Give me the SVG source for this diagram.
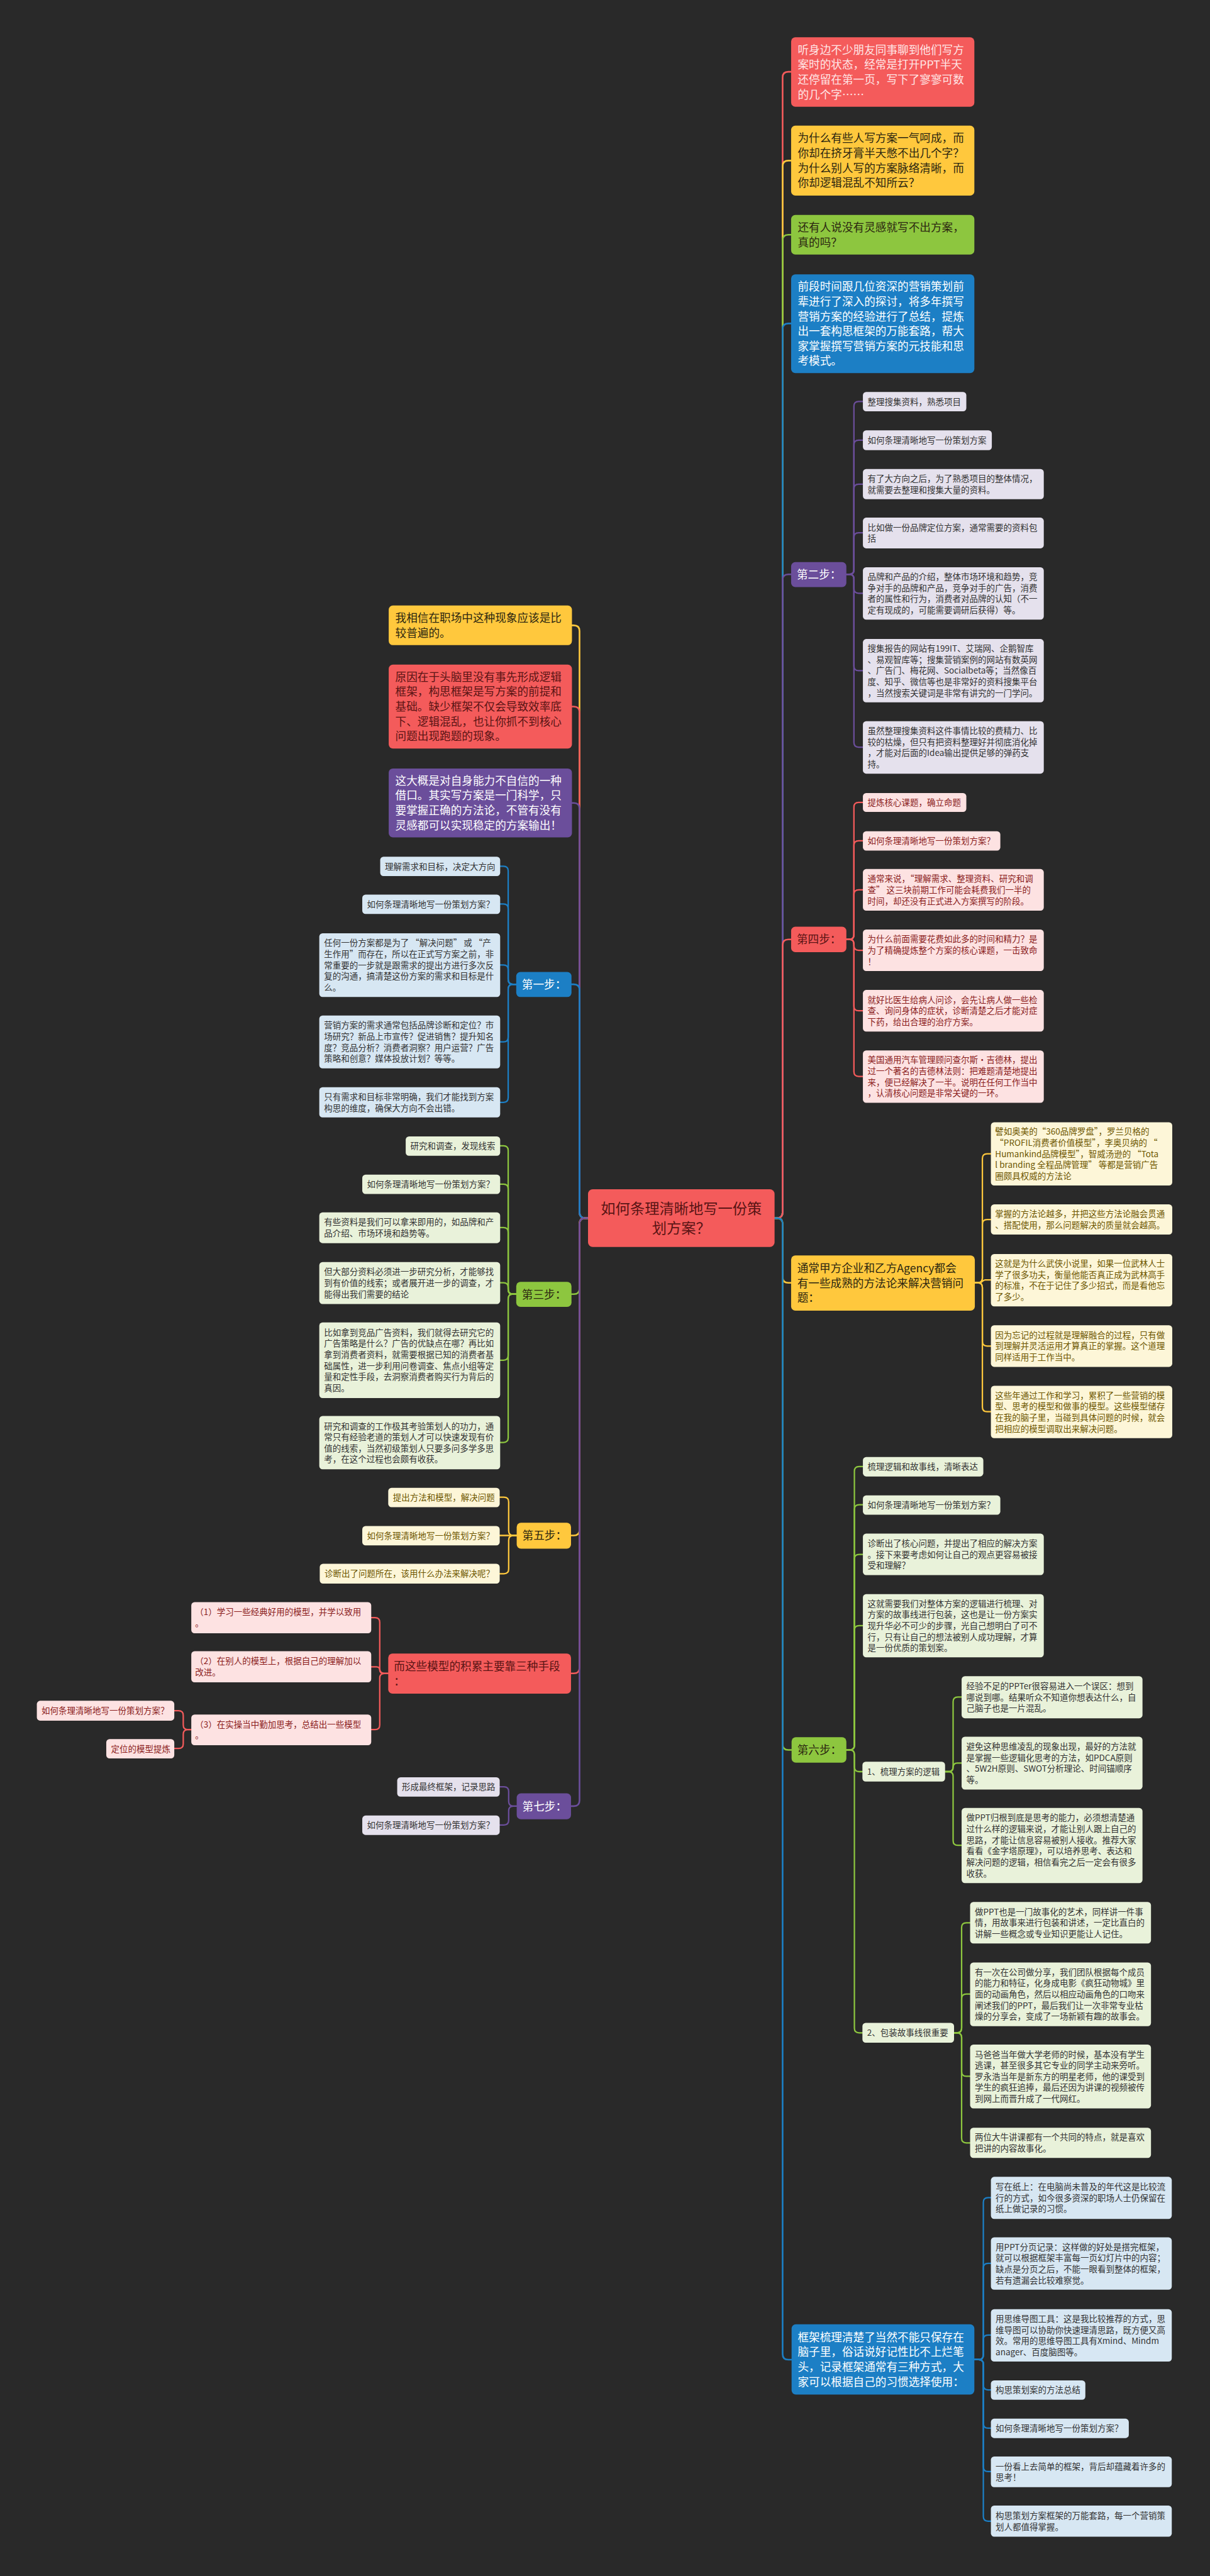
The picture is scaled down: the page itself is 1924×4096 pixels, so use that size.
<svg xmlns="http://www.w3.org/2000/svg" width="1924" height="4096" viewBox="0 0 1924 4096">
<style>
text{font-family:"Noto Sans CJK SC","Noto Sans",sans-serif}
.m{font-size:23.5px}
.s{font-size:18px}
.cc{font-size:31px}
.ln{fill:none;stroke-width:3.5;stroke-linecap:round}
.sl{fill:none;stroke-width:3;stroke-linecap:round}
.kr{stroke:#f45b5b}.ky{stroke:#ffc83d}.kg{stroke:#8dc63f}.kb{stroke:#1c7fc5}.kp{stroke:#6b4e9b}
.fr{fill:#f45b5b}.fy{fill:#ffc83d}.fg{fill:#8dc63f}.fb{fill:#1c7fc5}.fp{fill:#6b4e9b}
.cl{fill:#e5e1ed}.cp{fill:#fde2e2}.cy{fill:#fdf6d8}.cg{fill:#e9f2da}.cb{fill:#d7e7f3}
.xw{fill:#ffffff}.xl{fill:#ffe6e6}.xd{fill:#2b2610}.xr{fill:#5a1414}.xg{fill:#333333}.xp{fill:#8b1d1d}.xo{fill:#6d5600}
</style>
<rect width="1924" height="4096" fill="#292929"/>
<g transform="scale(0.751)">
<g id="connectors">
<path class="ln kr" d="M1640 2579H1645Q1657 2579 1657 2567V164Q1657 152 1669 152H1675"/>
<path class="ln ky" d="M1640 2579H1645Q1657 2579 1657 2567V352Q1657 340 1669 340H1675"/>
<path class="ln kg" d="M1640 2579H1645Q1657 2579 1657 2567V509Q1657 497 1669 497H1675"/>
<path class="ln kb" d="M1640 2579H1645Q1657 2579 1657 2567V697Q1657 685 1669 685H1675"/>
<path class="ln kp" d="M1640 2579H1645Q1657 2579 1657 2567V1228Q1657 1216 1669 1216H1675"/>
<path class="ln kr" d="M1640 2579H1645Q1657 2579 1657 2567V2001Q1657 1989 1669 1989H1675"/>
<path class="ln ky" d="M1640 2579H1645Q1657 2579 1657 2591V2704Q1657 2716 1669 2716H1675"/>
<path class="ln kg" d="M1640 2579H1645Q1657 2579 1657 2591V3693Q1657 3705 1669 3705H1676"/>
<path class="ln kb" d="M1640 2579H1645Q1657 2579 1657 2591V4984Q1657 4996 1669 4996H1676"/>
<path class="ln ky" d="M1245 2579H1239Q1227 2579 1227 2567V1336Q1227 1324 1215 1324H1211"/>
<path class="ln kr" d="M1245 2579H1239Q1227 2579 1227 2567V1508Q1227 1496 1215 1496H1211"/>
<path class="ln kp" d="M1245 2579H1239Q1227 2579 1227 2567V1712Q1227 1700 1215 1700H1211"/>
<path class="ln kb" d="M1245 2579H1239Q1227 2579 1227 2567V2096Q1227 2084 1215 2084H1210"/>
<path class="ln kg" d="M1245 2579H1239Q1227 2579 1227 2591V2728Q1227 2740 1215 2740H1210"/>
<path class="ln ky" d="M1245 2579H1239Q1227 2579 1227 2591V3239Q1227 3251 1215 3251H1209"/>
<path class="ln kr" d="M1245 2579H1239Q1227 2579 1227 2591V3531Q1227 3543 1215 3543H1209"/>
<path class="ln kp" d="M1245 2579H1239Q1227 2579 1227 2591V3812Q1227 3824 1215 3824H1209"/>
<path class="sl kp" d="M1792 1216H1798Q1808 1216 1808 1206V860Q1808 850 1818 850H1827"/>
<path class="sl kp" d="M1792 1216H1798Q1808 1216 1808 1206V942Q1808 932 1818 932H1827"/>
<path class="sl kp" d="M1792 1216H1798Q1808 1216 1808 1206V1035Q1808 1025 1818 1025H1827"/>
<path class="sl kp" d="M1792 1216H1798Q1808 1216 1808 1206V1138Q1808 1128 1818 1128H1827"/>
<path class="sl kp" d="M1792 1216H1798Q1808 1216 1808 1226V1246Q1808 1256 1818 1256H1827"/>
<path class="sl kp" d="M1792 1216H1798Q1808 1216 1808 1226V1410Q1808 1420 1818 1420H1827"/>
<path class="sl kp" d="M1792 1216H1798Q1808 1216 1808 1226V1572Q1808 1582 1818 1582H1827"/>
<path class="sl kr" d="M1792 1989H1798Q1808 1989 1808 1979V1709Q1808 1699 1818 1699H1827"/>
<path class="sl kr" d="M1792 1989H1798Q1808 1989 1808 1979V1790Q1808 1780 1818 1780H1827"/>
<path class="sl kr" d="M1792 1989H1798Q1808 1989 1808 1979V1894Q1808 1884 1818 1884H1827"/>
<path class="sl kr" d="M1792 1989H1798Q1808 1989 1808 1999V2002Q1808 2012 1818 2012H1827"/>
<path class="sl kr" d="M1792 1989H1798Q1808 1989 1808 1999V2130Q1808 2140 1818 2140H1827"/>
<path class="sl kr" d="M1792 1989H1798Q1808 1989 1808 1999V2269Q1808 2279 1818 2279H1827"/>
<path class="sl ky" d="M2064 2716H2070Q2080 2716 2080 2706V2453Q2080 2443 2090 2443H2098"/>
<path class="sl ky" d="M2064 2716H2070Q2080 2716 2080 2706V2592Q2080 2582 2090 2582H2098"/>
<path class="sl ky" d="M2064 2716H2074C2080 2716 2080 2710 2086 2710H2098"/>
<path class="sl ky" d="M2064 2716H2070Q2080 2716 2080 2726V2840Q2080 2850 2090 2850H2098"/>
<path class="sl ky" d="M2064 2716H2070Q2080 2716 2080 2726V2979Q2080 2989 2090 2989H2098"/>
<path class="sl kg" d="M1792 3705H1799Q1809 3705 1809 3695V3115Q1809 3105 1819 3105H1827"/>
<path class="sl kg" d="M1792 3705H1799Q1809 3705 1809 3695V3196Q1809 3186 1819 3186H1827"/>
<path class="sl kg" d="M1792 3705H1799Q1809 3705 1809 3695V3301Q1809 3291 1819 3291H1827"/>
<path class="sl kg" d="M1792 3705H1799Q1809 3705 1809 3695V3452Q1809 3442 1819 3442H1827"/>
<path class="sl kg" d="M1792 3705H1799Q1809 3705 1809 3715V3741Q1809 3751 1819 3751H1826"/>
<path class="sl kg" d="M1792 3705H1799Q1809 3705 1809 3715V4294Q1809 4304 1819 4304H1826"/>
<path class="sl kg" d="M2001 3751H2008Q2018 3751 2018 3741V3603Q2018 3593 2028 3593H2036"/>
<path class="sl kg" d="M2001 3751H2009Q2018 3751 2018 3742Q2018 3733 2027 3733H2036"/>
<path class="sl kg" d="M2001 3751H2008Q2018 3751 2018 3761V3897Q2018 3907 2028 3907H2036"/>
<path class="sl kg" d="M2020 4304H2026Q2036 4304 2036 4294V4081Q2036 4071 2046 4071H2054"/>
<path class="sl kg" d="M2020 4304H2026Q2036 4304 2036 4294V4232Q2036 4222 2046 4222H2054"/>
<path class="sl kg" d="M2020 4304H2026Q2036 4304 2036 4314V4386Q2036 4396 2046 4396H2054"/>
<path class="sl kg" d="M2020 4304H2026Q2036 4304 2036 4314V4527Q2036 4537 2046 4537H2054"/>
<path class="sl kb" d="M2063 4996H2072Q2082 4996 2082 4986V4663Q2082 4653 2092 4653H2098"/>
<path class="sl kb" d="M2063 4996H2072Q2082 4996 2082 4986V4802Q2082 4792 2092 4792H2098"/>
<path class="sl kb" d="M2063 4996H2072Q2082 4996 2082 4986V4954Q2082 4944 2092 4944H2098"/>
<path class="sl kb" d="M2063 4996H2072Q2082 4996 2082 5006V5050Q2082 5060 2092 5060H2098"/>
<path class="sl kb" d="M2063 4996H2072Q2082 4996 2082 5006V5131Q2082 5141 2092 5141H2098"/>
<path class="sl kb" d="M2063 4996H2072Q2082 4996 2082 5006V5223Q2082 5233 2092 5233H2098"/>
<path class="sl kb" d="M2063 4996H2072Q2082 4996 2082 5006V5328Q2082 5338 2092 5338H2098"/>
<path class="sl kb" d="M1093 2084H1086Q1076 2084 1076 2074V1844Q1076 1834 1066 1834H1059"/>
<path class="sl kb" d="M1093 2084H1086Q1076 2084 1076 2074V1924Q1076 1914 1066 1914H1059"/>
<path class="sl kb" d="M1093 2084H1086Q1076 2084 1076 2074V2053Q1076 2043 1066 2043H1059"/>
<path class="sl kb" d="M1093 2084H1086Q1076 2084 1076 2094V2196Q1076 2206 1066 2206H1059"/>
<path class="sl kb" d="M1093 2084H1086Q1076 2084 1076 2094V2324Q1076 2334 1066 2334H1059"/>
<path class="sl kg" d="M1093 2740H1086Q1076 2740 1076 2730V2436Q1076 2426 1066 2426H1059"/>
<path class="sl kg" d="M1093 2740H1086Q1076 2740 1076 2730V2517Q1076 2507 1066 2507H1059"/>
<path class="sl kg" d="M1093 2740H1086Q1076 2740 1076 2730V2609Q1076 2599 1066 2599H1059"/>
<path class="sl kg" d="M1093 2740H1086Q1076 2740 1076 2730V2726Q1076 2716 1066 2716H1059"/>
<path class="sl kg" d="M1093 2740H1086Q1076 2740 1076 2750V2870Q1076 2880 1066 2880H1059"/>
<path class="sl kg" d="M1093 2740H1086Q1076 2740 1076 2750V3044Q1076 3054 1066 3054H1059"/>
<path class="sl ky" d="M1094 3251H1087Q1077 3251 1077 3241V3180Q1077 3170 1067 3170H1058"/>
<path class="sl ky" d="M1094 3251H1058"/>
<path class="sl ky" d="M1094 3251H1087Q1077 3251 1077 3261V3322Q1077 3332 1067 3332H1058"/>
<path class="sl kr" d="M822 3543H814Q804 3543 804 3533V3435Q804 3425 794 3425H786"/>
<path class="sl kr" d="M822 3543H813Q804 3543 804 3536Q804 3529 797 3529H786"/>
<path class="sl kr" d="M822 3543H814Q804 3543 804 3553V3652Q804 3662 794 3662H786"/>
<path class="sl kr" d="M405 3662H398Q388 3662 388 3652V3632Q388 3622 378 3622H369"/>
<path class="sl kr" d="M405 3662H398Q388 3662 388 3672V3692Q388 3702 378 3702H369"/>
<path class="sl kp" d="M1094 3824H1087Q1077 3824 1077 3814V3793Q1077 3783 1067 3783H1058"/>
<path class="sl kp" d="M1094 3824H1087Q1077 3824 1077 3834V3854Q1077 3864 1067 3864H1058"/>
</g>

<g id="center" transform="translate(1245,2518)"><rect class="fr" width="395" height="122" rx="10"/><text class="cc xr" text-anchor="middle" y="51.5"><tspan x="197.5">如何条理清晰地写一份策</tspan><tspan x="197.5" dy="42">划方案？</tspan></text></g>

<g id="r1" transform="translate(1675,79)"><rect class="fr" width="388" height="147" rx="9"/><text class="m xl" y="34.95"><tspan x="14">听身边不少朋友同事聊到他们写方</tspan><tspan x="14" dy="31.5">案时的状态，经常是打开PPT半天</tspan><tspan x="14" dy="31.5">还停留在第一页，写下了寥寥可数</tspan><tspan x="14" dy="31.5">的几个字……</tspan></text></g>
<g id="r2" transform="translate(1675,266)"><rect class="fy" width="388" height="148" rx="9"/><text class="m xd" y="35.45"><tspan x="14">为什么有些人写方案一气呵成，而</tspan><tspan x="14" dy="31.5">你却在挤牙膏半天憋不出几个字？</tspan><tspan x="14" dy="31.5">为什么别人写的方案脉络清晰，而</tspan><tspan x="14" dy="31.5">你却逻辑混乱不知所云？</tspan></text></g>
<g id="r3" transform="translate(1675,455)"><rect class="fg" width="388" height="84" rx="9"/><text class="m xd" y="34.95"><tspan x="14">还有人说没有灵感就写不出方案，</tspan><tspan x="14" dy="31.5">真的吗？</tspan></text></g>
<g id="r4" transform="translate(1675,581)"><rect class="fb" width="388" height="209" rx="9"/><text class="m xw" y="34.45"><tspan x="14">前段时间跟几位资深的营销策划前</tspan><tspan x="14" dy="31.5">辈进行了深入的探讨，将多年撰写</tspan><tspan x="14" dy="31.5">营销方案的经验进行了总结，提炼</tspan><tspan x="14" dy="31.5">出一套构思框架的万能套路，帮大</tspan><tspan x="14" dy="31.5">家掌握撰写营销方案的元技能和思</tspan><tspan x="14" dy="31.5">考模式。</tspan></text></g>

<g id="step2" transform="translate(1675,1190)"><rect class="fp" width="117" height="53" rx="9"/><text class="m xw" x="12" y="35.2">第二步：</text></g>
<g id="s2c1" transform="translate(1827,830)"><rect class="cl" width="219" height="41" rx="7"/><text class="s xg" x="10" y="27.2">整理搜集资料，熟悉项目</text></g>
<g id="s2c2" transform="translate(1827,911)"><rect class="cl" width="273" height="42" rx="7"/><text class="s xg" x="10" y="27.7">如何条理清晰地写一份策划方案</text></g>
<g id="s2c3" transform="translate(1827,993)"><rect class="cl" width="383" height="64" rx="7"/><text class="s xg" y="26.95"><tspan x="10">有了大方向之后，为了熟悉项目的整体情况，</tspan><tspan x="10" dy="23.5">就需要去整理和搜集大量的资料。</tspan></text></g>
<g id="s2c4" transform="translate(1827,1096)"><rect class="cl" width="383" height="65" rx="7"/><text class="s xg" y="27.45"><tspan x="10">比如做一份品牌定位方案，通常需要的资料包</tspan><tspan x="10" dy="23.5">括</tspan></text></g>
<g id="s2c5" transform="translate(1827,1201)"><rect class="cl" width="383" height="111" rx="7"/><text class="s xg" y="26.95"><tspan x="10">品牌和产品的介绍，整体市场环境和趋势，竞</tspan><tspan x="10" dy="23.5">争对手的品牌和产品，竞争对手的广告，消费</tspan><tspan x="10" dy="23.5">者的属性和行为，消费者对品牌的认知（不一</tspan><tspan x="10" dy="23.5">定有现成的，可能需要调研后获得）等。</tspan></text></g>
<g id="s2c6" transform="translate(1827,1353)"><rect class="cl" width="383" height="134" rx="7"/><text class="s xg" y="26.7"><tspan x="10">搜集报告的网站有199IT、艾瑞网、企鹅智库</tspan><tspan x="10" dy="23.5">、易观智库等；搜集营销案例的网站有数英网</tspan><tspan x="10" dy="23.5">、广告门、梅花网、Socialbeta等；当然像百</tspan><tspan x="10" dy="23.5">度、知乎、微信等也是非常好的资料搜集平台</tspan><tspan x="10" dy="23.5">，当然搜索关键词是非常有讲究的一门学问。</tspan></text></g>
<g id="s2c7" transform="translate(1827,1527)"><rect class="cl" width="383" height="111" rx="7"/><text class="s xg" y="26.95"><tspan x="10">虽然整理搜集资料这件事情比较的费精力、比</tspan><tspan x="10" dy="23.5">较的枯燥，但只有把资料整理好并彻底消化掉</tspan><tspan x="10" dy="23.5">，才能对后面的Idea输出提供足够的弹药支</tspan><tspan x="10" dy="23.5">持。</tspan></text></g>

<g id="step4" transform="translate(1675,1962)"><rect class="fr" width="117" height="54" rx="9"/><text class="m xr" x="12" y="35.7">第四步：</text></g>
<g id="s4c1" transform="translate(1827,1679)"><rect class="cp" width="219" height="40" rx="7"/><text class="s xp" x="10" y="26.7">提炼核心课题，确立命题</text></g>
<g id="s4c2" transform="translate(1827,1760)"><rect class="cp" width="291" height="41" rx="7"/><text class="s xp" x="10" y="27.2">如何条理清晰地写一份策划方案？</text></g>
<g id="s4c3" transform="translate(1827,1840)"><rect class="cp" width="383" height="88" rx="7"/><text class="s xp" y="27.2"><tspan x="10">通常来说，“理解需求、整理资料、研究和调</tspan><tspan x="10" dy="23.5">查” 这三块前期工作可能会耗费我们一半的</tspan><tspan x="10" dy="23.5">时间，却还没有正式进入方案撰写的阶段。</tspan></text></g>
<g id="s4c4" transform="translate(1827,1968)"><rect class="cp" width="383" height="88" rx="7"/><text class="s xp" y="27.2"><tspan x="10">为什么前面需要花费如此多的时间和精力？是</tspan><tspan x="10" dy="23.5">为了精确提炼整个方案的核心课题，一击致命</tspan><tspan x="10" dy="23.5">！</tspan></text></g>
<g id="s4c5" transform="translate(1827,2096)"><rect class="cp" width="383" height="88" rx="7"/><text class="s xp" y="27.2"><tspan x="10">就好比医生给病人问诊，会先让病人做一些检</tspan><tspan x="10" dy="23.5">查、询问身体的症状，诊断清楚之后才能对症</tspan><tspan x="10" dy="23.5">下药，给出合理的治疗方案。</tspan></text></g>
<g id="s4c6" transform="translate(1827,2224)"><rect class="cp" width="383" height="111" rx="7"/><text class="s xp" y="26.95"><tspan x="10">美国通用汽车管理顾问查尔斯·吉德林，提出</tspan><tspan x="10" dy="23.5">过一个著名的吉德林法则：把难题清楚地提出</tspan><tspan x="10" dy="23.5">来，便已经解决了一半。说明在任何工作当中</tspan><tspan x="10" dy="23.5">，认清核心问题是非常关键的一环。</tspan></text></g>

<g id="agency" transform="translate(1675,2658)"><rect class="fy" width="389" height="117" rx="9"/><text class="m xd" y="35.7"><tspan x="13">通常甲方企业和乙方Agency都会</tspan><tspan x="13" dy="31.5">有一些成熟的方法论来解决营销问</tspan><tspan x="13" dy="31.5">题：</tspan></text></g>
<g id="agc1" transform="translate(2098,2376)"><rect class="cy" width="384" height="134" rx="7"/><text class="s xo" y="26.7"><tspan x="9">譬如奥美的“360品牌罗盘”，罗兰贝格的</tspan><tspan x="9" dy="23.5">“PROFIL消费者价值模型”，李奥贝纳的 “</tspan><tspan x="9" dy="23.5">Humankind品牌模型”，智威汤逊的 “Tota</tspan><tspan x="9" dy="23.5">l branding 全程品牌管理” 等都是营销广告</tspan><tspan x="9" dy="23.5">圈颇具权威的方法论</tspan></text></g>
<g id="agc2" transform="translate(2098,2550)"><rect class="cy" width="384" height="64" rx="7"/><text class="s xo" y="26.95"><tspan x="9">掌握的方法论越多，并把这些方法论融会贯通</tspan><tspan x="9" dy="23.5">、搭配使用，那么问题解决的质量就会越高。</tspan></text></g>
<g id="agc3" transform="translate(2098,2655)"><rect class="cy" width="384" height="111" rx="7"/><text class="s xo" y="26.95"><tspan x="9">这就是为什么武侠小说里，如果一位武林人士</tspan><tspan x="9" dy="23.5">学了很多功夫，衡量他能否真正成为武林高手</tspan><tspan x="9" dy="23.5">的标准，不在于记住了多少招式，而是看他忘</tspan><tspan x="9" dy="23.5">了多少。</tspan></text></g>
<g id="agc4" transform="translate(2098,2806)"><rect class="cy" width="384" height="88" rx="7"/><text class="s xo" y="27.2"><tspan x="9">因为忘记的过程就是理解融合的过程，只有做</tspan><tspan x="9" dy="23.5">到理解并灵活运用才算真正的掌握。这个道理</tspan><tspan x="9" dy="23.5">同样适用于工作当中。</tspan></text></g>
<g id="agc5" transform="translate(2098,2934)"><rect class="cy" width="384" height="111" rx="7"/><text class="s xo" y="26.95"><tspan x="9">这些年通过工作和学习，累积了一些营销的模</tspan><tspan x="9" dy="23.5">型、思考的模型和做事的模型。这些模型储存</tspan><tspan x="9" dy="23.5">在我的脑子里，当碰到具体问题的时候，就会</tspan><tspan x="9" dy="23.5">把相应的模型调取出来解决问题。</tspan></text></g>

<g id="step6" transform="translate(1676,3678)"><rect class="fg" width="116" height="54" rx="9"/><text class="m xd" x="12" y="35.7">第六步：</text></g>
<g id="s6c1" transform="translate(1827,3085)"><rect class="cg" width="255" height="41" rx="7"/><text class="s xg" x="10" y="27.2">梳理逻辑和故事线，清晰表达</text></g>
<g id="s6c2" transform="translate(1827,3166)"><rect class="cg" width="291" height="41" rx="7"/><text class="s xg" x="10" y="27.2">如何条理清晰地写一份策划方案？</text></g>
<g id="s6c3" transform="translate(1827,3247)"><rect class="cg" width="383" height="88" rx="7"/><text class="s xg" y="27.2"><tspan x="10">诊断出了核心问题，并提出了相应的解决方案</tspan><tspan x="10" dy="23.5">。接下来要考虑如何让自己的观点更容易被接</tspan><tspan x="10" dy="23.5">受和理解？</tspan></text></g>
<g id="s6c4" transform="translate(1827,3375)"><rect class="cg" width="383" height="134" rx="7"/><text class="s xg" y="26.7"><tspan x="10">这就需要我们对整体方案的逻辑进行梳理、对</tspan><tspan x="10" dy="23.5">方案的故事线进行包装，这也是让一份方案实</tspan><tspan x="10" dy="23.5">现升华必不可少的步骤，光自己想明白了可不</tspan><tspan x="10" dy="23.5">行，只有让自己的想法被别人成功理解，才算</tspan><tspan x="10" dy="23.5">是一份优质的策划案。</tspan></text></g>
<g id="s6a" transform="translate(1826,3730)"><rect class="cg" width="175" height="42" rx="7"/><text class="s xg" x="10" y="27.7">1、梳理方案的逻辑</text></g>
<g id="s6a1" transform="translate(2036,3549)"><rect class="cg" width="383" height="89" rx="7"/><text class="s xg" y="27.7"><tspan x="10">经验不足的PPTer很容易进入一个误区：想到</tspan><tspan x="10" dy="23.5">哪说到哪。结果听众不知道你想表达什么，自</tspan><tspan x="10" dy="23.5">己脑子也是一片混乱。</tspan></text></g>
<g id="s6a2" transform="translate(2036,3677)"><rect class="cg" width="383" height="112" rx="7"/><text class="s xg" y="27.45"><tspan x="10">避免这种思维凌乱的现象出现，最好的方法就</tspan><tspan x="10" dy="23.5">是掌握一些逻辑化思考的方法，如PDCA原则</tspan><tspan x="10" dy="23.5">、5W2H原则、SWOT分析理论、时间锚顺序</tspan><tspan x="10" dy="23.5">等。</tspan></text></g>
<g id="s6a3" transform="translate(2036,3828)"><rect class="cg" width="383" height="159" rx="7"/><text class="s xg" y="27.45"><tspan x="10">做PPT归根到底是思考的能力，必须想清楚通</tspan><tspan x="10" dy="23.5">过什么样的逻辑来说，才能让别人跟上自己的</tspan><tspan x="10" dy="23.5">思路，才能让信息容易被别人接收。推荐大家</tspan><tspan x="10" dy="23.5">看看《金字塔原理》，可以培养思考、表达和</tspan><tspan x="10" dy="23.5">解决问题的逻辑，相信看完之后一定会有很多</tspan><tspan x="10" dy="23.5">收获。</tspan></text></g>
<g id="s6b" transform="translate(1826,4283)"><rect class="cg" width="194" height="42" rx="7"/><text class="s xg" x="10" y="27.7">2、包装故事线很重要</text></g>
<g id="s6b1" transform="translate(2054,4027)"><rect class="cg" width="383" height="88" rx="7"/><text class="s xg" y="27.2"><tspan x="10">做PPT也是一门故事化的艺术，同样讲一件事</tspan><tspan x="10" dy="23.5">情，用故事来进行包装和讲述，一定比直白的</tspan><tspan x="10" dy="23.5">讲解一些概念或专业知识更能让人记住。</tspan></text></g>
<g id="s6b2" transform="translate(2054,4155)"><rect class="cg" width="383" height="135" rx="7"/><text class="s xg" y="27.2"><tspan x="10">有一次在公司做分享，我们团队根据每个成员</tspan><tspan x="10" dy="23.5">的能力和特征，化身成电影《疯狂动物城》里</tspan><tspan x="10" dy="23.5">面的动画角色，然后以相应动画角色的口吻来</tspan><tspan x="10" dy="23.5">阐述我们的PPT，最后我们让一次非常专业枯</tspan><tspan x="10" dy="23.5">燥的分享会，变成了一场新颖有趣的故事会。</tspan></text></g>
<g id="s6b3" transform="translate(2054,4329)"><rect class="cg" width="383" height="135" rx="7"/><text class="s xg" y="27.2"><tspan x="10">马爸爸当年做大学老师的时候，基本没有学生</tspan><tspan x="10" dy="23.5">逃课，甚至很多其它专业的同学主动来旁听。</tspan><tspan x="10" dy="23.5">罗永浩当年是新东方的明星老师，他的课受到</tspan><tspan x="10" dy="23.5">学生的疯狂追捧，最后还因为讲课的视频被传</tspan><tspan x="10" dy="23.5">到网上而晋升成了一代网红。</tspan></text></g>
<g id="s6b4" transform="translate(2054,4505)"><rect class="cg" width="383" height="64" rx="7"/><text class="s xg" y="26.95"><tspan x="10">两位大牛讲课都有一个共同的特点，就是喜欢</tspan><tspan x="10" dy="23.5">把讲的内容故事化。</tspan></text></g>

<g id="frame" transform="translate(1676,4921)"><rect class="fb" width="387" height="149" rx="9"/><text class="m xw" y="35.95"><tspan x="13">框架梳理清楚了当然不能只保存在</tspan><tspan x="13" dy="31.5">脑子里，俗话说好记性比不上烂笔</tspan><tspan x="13" dy="31.5">头，记录框架通常有三种方式，大</tspan><tspan x="13" dy="31.5">家可以根据自己的习惯选择使用：</tspan></text></g>
<g id="fc1" transform="translate(2098,4609)"><rect class="cb" width="383" height="89" rx="7"/><text class="s xg" y="27.7"><tspan x="10">写在纸上：在电脑尚未普及的年代这是比较流</tspan><tspan x="10" dy="23.5">行的方式，如今很多资深的职场人士仍保留在</tspan><tspan x="10" dy="23.5">纸上做记录的习惯。</tspan></text></g>
<g id="fc2" transform="translate(2098,4737)"><rect class="cb" width="383" height="111" rx="7"/><text class="s xg" y="26.95"><tspan x="10">用PPT分页记录：这样做的好处是搭完框架，</tspan><tspan x="10" dy="23.5">就可以根据框架丰富每一页幻灯片中的内容；</tspan><tspan x="10" dy="23.5">缺点是分页之后，不能一眼看到整体的框架，</tspan><tspan x="10" dy="23.5">若有遗漏会比较难察觉。</tspan></text></g>
<g id="fc3" transform="translate(2098,4889)"><rect class="cb" width="383" height="111" rx="7"/><text class="s xg" y="26.95"><tspan x="10">用思维导图工具：这是我比较推荐的方式，思</tspan><tspan x="10" dy="23.5">维导图可以协助你快速理清思路，既方便又高</tspan><tspan x="10" dy="23.5">效。常用的思维导图工具有Xmind、Mindm</tspan><tspan x="10" dy="23.5">anager、百度脑图等。</tspan></text></g>
<g id="fc4" transform="translate(2098,5040)"><rect class="cb" width="200" height="41" rx="7"/><text class="s xg" x="10" y="27.2">构思策划案的方法总结</text></g>
<g id="fc5" transform="translate(2098,5121)"><rect class="cb" width="292" height="41" rx="7"/><text class="s xg" x="10" y="27.2">如何条理清晰地写一份策划方案？</text></g>
<g id="fc6" transform="translate(2098,5201)"><rect class="cb" width="383" height="65" rx="7"/><text class="s xg" y="27.45"><tspan x="10">一份看上去简单的框架，背后却蕴藏着许多的</tspan><tspan x="10" dy="23.5">思考！</tspan></text></g>
<g id="fc7" transform="translate(2098,5305)"><rect class="cb" width="383" height="66" rx="7"/><text class="s xg" y="27.95"><tspan x="10">构思策划方案框架的万能套路，每一个营销策</tspan><tspan x="10" dy="23.5">划人都值得掌握。</tspan></text></g>

<g id="l1" transform="translate(823,1282)"><rect class="fy" width="388" height="84" rx="9"/><text class="m xd" y="34.95"><tspan x="14">我相信在职场中这种现象应该是比</tspan><tspan x="14" dy="31.5">较普遍的。</tspan></text></g>
<g id="l2" transform="translate(823,1407)"><rect class="fr" width="388" height="178" rx="9"/><text class="m xr" y="34.7"><tspan x="14">原因在于头脑里没有事先形成逻辑</tspan><tspan x="14" dy="31.5">框架，构思框架是写方案的前提和</tspan><tspan x="14" dy="31.5">基础。缺少框架不仅会导致效率底</tspan><tspan x="14" dy="31.5">下、逻辑混乱，也让你抓不到核心</tspan><tspan x="14" dy="31.5">问题出现跑题的现象。</tspan></text></g>
<g id="l3" transform="translate(823,1627)"><rect class="fp" width="388" height="146" rx="9"/><text class="m xw" y="34.45"><tspan x="14">这大概是对自身能力不自信的一种</tspan><tspan x="14" dy="31.5">借口。其实写方案是一门科学，只</tspan><tspan x="14" dy="31.5">要掌握正确的方法论，不管有没有</tspan><tspan x="14" dy="31.5">灵感都可以实现稳定的方案输出！</tspan></text></g>

<g id="step1" transform="translate(1093,2058)"><rect class="fb" width="117" height="53" rx="9"/><text class="m xw" x="12" y="35.2">第一步：</text></g>
<g id="s1c1" transform="translate(805,1814)"><rect class="cb" width="254" height="41" rx="7"/><text class="s xg" x="10" y="27.2">理解需求和目标，决定大方向</text></g>
<g id="s1c2" transform="translate(767,1894)"><rect class="cb" width="292" height="41" rx="7"/><text class="s xg" x="10" y="27.2">如何条理清晰地写一份策划方案？</text></g>
<g id="s1c3" transform="translate(676,1976)"><rect class="cb" width="383" height="135" rx="7"/><text class="s xg" y="27.2"><tspan x="10">任何一份方案都是为了 “解决问题” 或 “产</tspan><tspan x="10" dy="23.5">生作用”而存在，所以在正式写方案之前，非</tspan><tspan x="10" dy="23.5">常重要的一步就是跟需求的提出方进行多次反</tspan><tspan x="10" dy="23.5">复的沟通，搞清楚这份方案的需求和目标是什</tspan><tspan x="10" dy="23.5">么。</tspan></text></g>
<g id="s1c4" transform="translate(676,2150)"><rect class="cb" width="383" height="112" rx="7"/><text class="s xg" y="27.45"><tspan x="10">营销方案的需求通常包括品牌诊断和定位？市</tspan><tspan x="10" dy="23.5">场研究？新品上市宣传？促进销售？提升知名</tspan><tspan x="10" dy="23.5">度？竞品分析？消费者洞察？用户运营？广告</tspan><tspan x="10" dy="23.5">策略和创意？媒体投放计划？等等。</tspan></text></g>
<g id="s1c5" transform="translate(676,2302)"><rect class="cb" width="383" height="64" rx="7"/><text class="s xg" y="26.95"><tspan x="10">只有需求和目标非常明确，我们才能找到方案</tspan><tspan x="10" dy="23.5">构思的维度，确保大方向不会出错。</tspan></text></g>

<g id="step3" transform="translate(1093,2714)"><rect class="fg" width="117" height="53" rx="9"/><text class="m xd" x="12" y="35.2">第三步：</text></g>
<g id="s3c1" transform="translate(859,2406)"><rect class="cg" width="200" height="41" rx="7"/><text class="s xg" x="10" y="27.2">研究和调查，发现线索</text></g>
<g id="s3c2" transform="translate(767,2487)"><rect class="cg" width="292" height="41" rx="7"/><text class="s xg" x="10" y="27.2">如何条理清晰地写一份策划方案？</text></g>
<g id="s3c3" transform="translate(676,2567)"><rect class="cg" width="383" height="65" rx="7"/><text class="s xg" y="27.45"><tspan x="10">有些资料是我们可以拿来即用的，如品牌和产</tspan><tspan x="10" dy="23.5">品介绍、市场环境和趋势等。</tspan></text></g>
<g id="s3c4" transform="translate(676,2672)"><rect class="cg" width="383" height="89" rx="7"/><text class="s xg" y="27.7"><tspan x="10">但大部分资料必须进一步研究分析，才能够找</tspan><tspan x="10" dy="23.5">到有价值的线索；或者展开进一步的调查，才</tspan><tspan x="10" dy="23.5">能得出我们需要的结论</tspan></text></g>
<g id="s3c5" transform="translate(676,2800)"><rect class="cg" width="383" height="160" rx="7"/><text class="s xg" y="27.95"><tspan x="10">比如拿到竞品广告资料，我们就得去研究它的</tspan><tspan x="10" dy="23.5">广告策略是什么？广告的优缺点在哪？再比如</tspan><tspan x="10" dy="23.5">拿到消费者资料，就需要根据已知的消费者基</tspan><tspan x="10" dy="23.5">础属性，进一步利用问卷调查、焦点小组等定</tspan><tspan x="10" dy="23.5">量和定性手段，去洞察消费者购买行为背后的</tspan><tspan x="10" dy="23.5">真因。</tspan></text></g>
<g id="s3c6" transform="translate(676,2998)"><rect class="cg" width="383" height="113" rx="7"/><text class="s xg" y="28"><tspan x="10">研究和调查的工作极其考验策划人的功力，通</tspan><tspan x="10" dy="23.5">常只有经验老道的策划人才可以快速发现有价</tspan><tspan x="10" dy="23.5">值的线索，当然初级策划人只要多问多学多思</tspan><tspan x="10" dy="23.5">考，在这个过程也会颇有收获。</tspan></text></g>

<g id="step5" transform="translate(1094,3224)"><rect class="fy" width="115" height="55" rx="9"/><text class="m xd" x="12" y="36.2">第五步：</text></g>
<g id="s5c1" transform="translate(822,3150)"><rect class="cy" width="236" height="41" rx="7"/><text class="s xo" x="10" y="27.2">提出方法和模型，解决问题</text></g>
<g id="s5c2" transform="translate(767,3231)"><rect class="cy" width="291" height="41" rx="7"/><text class="s xo" x="10" y="27.2">如何条理清晰地写一份策划方案？</text></g>
<g id="s5c3" transform="translate(677,3311)"><rect class="cy" width="381" height="42" rx="7"/><text class="s xo" x="10" y="27.7">诊断出了问题所在，该用什么办法来解决呢？</text></g>

<g id="models" transform="translate(822,3501)"><rect class="fr" width="387" height="85" rx="9"/><text class="m xr" y="35.45"><tspan x="12">而这些模型的积累主要靠三种手段</tspan><tspan x="12" dy="31.5">：</tspan></text></g>
<g id="m1" transform="translate(405,3392)"><rect class="cp" width="381" height="66" rx="7"/><text class="s xp" y="27.95"><tspan x="8">（1）学习一些经典好用的模型，并学以致用</tspan><tspan x="8" dy="23.5">。</tspan></text></g>
<g id="m2" transform="translate(405,3496)"><rect class="cp" width="381" height="66" rx="7"/><text class="s xp" y="27.95"><tspan x="8">（2）在别人的模型上，根据自己的理解加以</tspan><tspan x="8" dy="23.5">改进。</tspan></text></g>
<g id="m3" transform="translate(405,3630)"><rect class="cp" width="381" height="65" rx="7"/><text class="s xp" y="27.45"><tspan x="8">（3）在实操当中勤加思考，总结出一些模型</tspan><tspan x="8" dy="23.5">。</tspan></text></g>
<g id="m3a" transform="translate(78,3601)"><rect class="cp" width="291" height="42" rx="7"/><text class="s xp" x="10" y="27.7">如何条理清晰地写一份策划方案？</text></g>
<g id="m3b" transform="translate(225,3682)"><rect class="cp" width="144" height="41" rx="7"/><text class="s xp" x="10" y="27.2">定位的模型提炼</text></g>

<g id="step7" transform="translate(1094,3797)"><rect class="fp" width="115" height="55" rx="9"/><text class="m xw" x="12" y="36.2">第七步：</text></g>
<g id="s7c1" transform="translate(841,3763)"><rect class="cl" width="217" height="41" rx="7"/><text class="s xg" x="10" y="27.2">形成最终框架，记录思路</text></g>
<g id="s7c2" transform="translate(767,3844)"><rect class="cl" width="291" height="41" rx="7"/><text class="s xg" x="10" y="27.2">如何条理清晰地写一份策划方案？</text></g>
</g>
</svg>
